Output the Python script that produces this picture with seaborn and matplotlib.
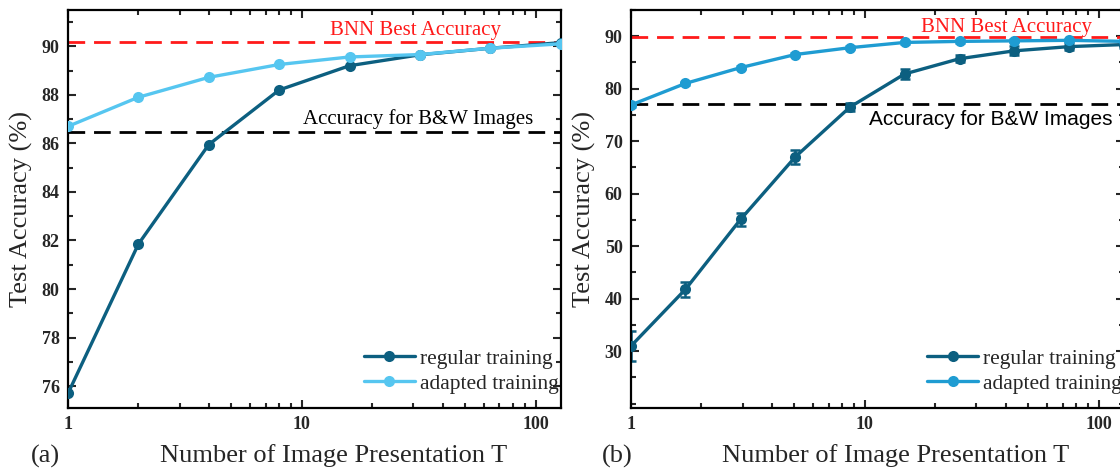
import numpy as np
import pandas as pd
import seaborn as sns
import matplotlib.pyplot as plt
from matplotlib.lines import Line2D
from matplotlib.ticker import MultipleLocator, NullFormatter

# panel (a)
T_a = [1, 2, 4, 8, 16, 32, 64, 128]
regular_a = [75.7, 81.85, 85.95, 88.2, 89.2, 89.65, 89.92, 90.15]
adapted_a = [86.7, 87.9, 88.72, 89.25, 89.56, 89.66, 89.92, 90.1]
bnn_a = 90.18
bw_a = 86.45

# panel (b)
T_b = [1, 1.71, 2.94, 5.04, 8.64, 14.8, 25.4, 43.5, 74.7, 128]
regular_b = [31.0, 41.8, 55.1, 67.0, 76.5, 82.8, 85.7, 87.2, 88.0, 88.4]
regular_b_err = [2.85, 1.4, 1.3, 1.35, 0.7, 0.95, 0.7, 0.85, 0.7, 0.6]
adapted_b = [76.9, 81.0, 84.0, 86.5, 87.8, 88.8, 89.0, 89.1, 89.2, 89.0]
adapted_b_err = [0.3, 0.3, 0.3, 0.3, 0.3, 0.3, 0.3, 0.3, 0.3, 0.3]
bnn_b = 89.9
bw_b = 77.1

labels = ["regular training", "adapted training"]

sns.set_theme(style="ticks")
plt.rcParams["font.family"] = ["Liberation Serif", "DejaVu Serif"]
plt.rcParams["mathtext.fontset"] = "stix"

palette_a = {"regular training": "#0c5f80", "adapted training": "#56c6f0"}
palette_b = {"regular training": "#0c5f80", "adapted training": "#1f9cd2"}


def make_df(T, reg, adp):
    return pd.DataFrame({
        "T": list(T) * 2,
        "acc": list(reg) + list(adp),
        "method": [labels[0]] * len(T) + [labels[1]] * len(T),
    })


def style_axis(ax, xlim, ylim, major, minor, yticks):
    ax.set_xscale("log")
    ax.set_xlim(*xlim)
    ax.set_ylim(*ylim)
    ax.set_xticks([1, 10, 100], labels=["1", "10", "100"])
    ax.xaxis.set_minor_formatter(NullFormatter())
    ax.set_yticks(yticks, labels=[str(v) for v in yticks])
    ax.yaxis.set_minor_locator(MultipleLocator(minor))
    ax.tick_params(which="both", direction="in", top=True, right=True,
                   width=1.5, labelsize=13, pad=6)
    ax.tick_params(which="major", length=6)
    ax.tick_params(which="minor", length=3.5)
    for lab in ax.get_xticklabels() + ax.get_yticklabels():
        lab.set_fontweight("bold")
    for sp in ax.spines.values():
        sp.set_visible(True)
        sp.set_linewidth(1.6)
        sp.set_color("black")
    ax.grid(False)


fig = plt.figure(figsize=(11.2, 4.7), dpi=100)
ax1 = fig.add_axes([0.0607, 0.132, 0.440, 0.847])
ax2 = fig.add_axes([0.5634, 0.132, 0.440, 0.847])

dash = (6, 3.2)

# ---- (a)
ax1.axhline(bnn_a, color="#ff1a1a", lw=2, dashes=dash, zorder=1)
ax1.axhline(bw_a, color="black", lw=2, dashes=dash, zorder=1)
sns.lineplot(data=make_df(T_a, regular_a, adapted_a), x="T", y="acc",
             hue="method", hue_order=labels, palette=palette_a,
             marker="o", markersize=8, markeredgewidth=0, linewidth=2.4,
             legend=False, ax=ax1, zorder=3)
style_axis(ax1, (1, 128), (75.1, 91.5), 2, 1, [76, 78, 80, 82, 84, 86, 88, 90])
ax1.text(30.7, 90.45, "BNN Best Accuracy", color="#ff1a1a", fontsize=15,
         ha="center", va="baseline")
ax1.text(98, 86.8, "Accuracy for B&W Images", color="black", fontsize=15,
         ha="right", va="baseline")

# ---- (b)
ax2.axhline(bnn_b, color="#ff1a1a", lw=2, dashes=dash, zorder=1)
ax2.axhline(bw_b, color="black", lw=2, dashes=dash, zorder=1)
ax2.errorbar(T_b, regular_b, yerr=regular_b_err, fmt="none",
             ecolor=palette_b[labels[0]], elinewidth=1.8, capsize=3.5,
             capthick=1.8, zorder=2)
ax2.errorbar(T_b, adapted_b, yerr=adapted_b_err, fmt="none",
             ecolor=palette_b[labels[1]], elinewidth=1.8, capsize=3.5,
             capthick=1.8, zorder=2)
sns.lineplot(data=make_df(T_b, regular_b, adapted_b), x="T", y="acc",
             hue="method", hue_order=labels, palette=palette_b,
             marker="o", markersize=8, markeredgewidth=0, linewidth=2.4,
             legend=False, ax=ax2, zorder=3)
style_axis(ax2, (1, 128), (19.2, 95), 10, 5, [30, 40, 50, 60, 70, 80, 90])
ax2.text(40.4, 90.8, "BNN Best Accuracy", color="#ff1a1a", fontsize=15,
         ha="center", va="baseline")
ax2.text(115, 73.1, "Accuracy for B&W Images", color="black", fontsize=15,
         ha="right", va="baseline", family=["Liberation Sans", "DejaVu Sans"])

for ax, pal, tag, xc in [(ax1, palette_a, "(a)", 0.54), (ax2, palette_b, "(b)", 0.5375)]:
    handles = [Line2D([], [], color=pal[l], lw=2.4, marker="o", markersize=8,
                      markeredgewidth=0) for l in labels]
    ax.legend(handles, labels, loc="lower left", bbox_to_anchor=(0.60, 0.035),
              frameon=False, fontsize=15.5, handlelength=2.4,
              handletextpad=0.2, labelspacing=0.25, borderpad=0,
              borderaxespad=0)
    ax.set_xlabel("Number of Image Presentation T", fontsize=19)
    ax.xaxis.label.set_va("baseline")
    ax.xaxis.set_label_coords(xc, -0.136)
    ax.set_ylabel("Test Accuracy (%)", fontsize=19)
    ax.yaxis.label.set_va("center")
    ax.yaxis.set_label_coords(-0.094, 0.5)
    ax.text(-0.045 if tag == "(a)" else -0.027, -0.136, tag, fontsize=19,
            ha="center", va="baseline", transform=ax.transAxes)

fig.savefig("out.png", dpi=100)
